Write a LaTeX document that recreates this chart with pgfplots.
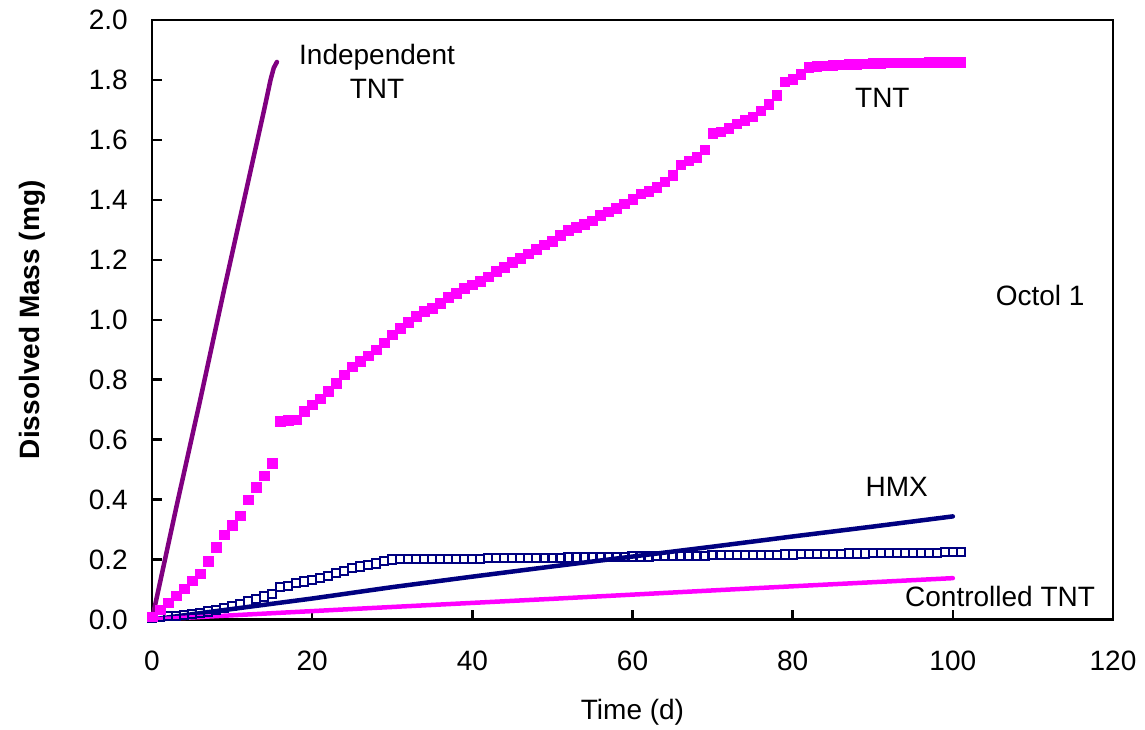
\documentclass[border=0pt]{standalone}
\usepackage{fontspec}
\setmainfont{Liberation Sans}
\usepackage{pgfplots}
\pgfplotsset{compat=1.18}
\definecolor{tntmag}{RGB}{255,0,255}
\definecolor{indpurple}{RGB}{128,0,128}
\definecolor{hmxnavy}{RGB}{0,0,128}

% Octol 1: dissolved TNT (filled squares) and HMX (open squares), daily
\pgfplotstableread{
t m
0 0.010
1 0.033
2 0.056
3 0.080
4 0.103
5 0.129
6 0.153
7 0.194
8 0.241
9 0.283
10 0.314
11 0.346
12 0.400
13 0.441
14 0.480
15 0.522
16 0.661
17 0.664
18 0.667
19 0.694
20 0.717
21 0.736
22 0.761
23 0.789
24 0.817
25 0.844
26 0.861
27 0.880
28 0.900
29 0.924
30 0.950
31 0.972
32 0.991
33 1.011
34 1.028
35 1.039
36 1.056
37 1.076
38 1.089
39 1.106
40 1.117
41 1.128
42 1.144
43 1.161
44 1.176
45 1.191
46 1.206
47 1.220
48 1.236
49 1.250
50 1.263
51 1.283
52 1.298
53 1.309
54 1.319
55 1.331
56 1.348
57 1.361
58 1.372
59 1.387
60 1.402
61 1.420
62 1.428
63 1.443
64 1.461
65 1.483
66 1.517
67 1.530
68 1.543
69 1.567
70 1.622
71 1.628
72 1.639
73 1.654
74 1.665
75 1.678
76 1.697
77 1.720
78 1.750
79 1.794
80 1.802
81 1.820
82 1.842
83 1.846
84 1.848
85 1.850
86 1.851
87 1.852
88 1.853
89 1.854
90 1.855
91 1.856
92 1.857
93 1.857
94 1.858
95 1.858
96 1.858
97 1.859
98 1.859
99 1.859
100 1.859
101 1.859
}\tntdata

\pgfplotstableread{
t m
0 0.005
1 0.009
2 0.011
3 0.013
4 0.016
5 0.019
6 0.022
7 0.027
8 0.032
9 0.038
10 0.044
11 0.052
12 0.060
13 0.068
14 0.077
15 0.085
16 0.108
17 0.113
18 0.121
19 0.127
20 0.133
21 0.139
22 0.146
23 0.155
24 0.163
25 0.171
26 0.177
27 0.182
28 0.187
29 0.196
30 0.200
31 0.201
32 0.201
33 0.201
34 0.202
35 0.202
36 0.202
37 0.202
38 0.203
39 0.203
40 0.203
41 0.203
42 0.204
43 0.204
44 0.204
45 0.205
46 0.205
47 0.205
48 0.205
49 0.206
50 0.206
51 0.206
52 0.207
53 0.207
54 0.207
55 0.208
56 0.208
57 0.208
58 0.209
59 0.209
60 0.210
61 0.210
62 0.210
63 0.211
64 0.211
65 0.211
66 0.212
67 0.212
68 0.213
69 0.213
70 0.214
71 0.214
72 0.214
73 0.215
74 0.215
75 0.215
76 0.216
77 0.216
78 0.216
79 0.217
80 0.217
81 0.218
82 0.218
83 0.218
84 0.219
85 0.219
86 0.219
87 0.220
88 0.220
89 0.220
90 0.221
91 0.221
92 0.221
93 0.222
94 0.222
95 0.222
96 0.223
97 0.223
98 0.223
99 0.224
100 0.224
101 0.224
}\hmxdata

\begin{document}
\fontsize{28}{33}\selectfont
\begin{tikzpicture}[x=1pt,y=1pt]
\path[use as bounding box] (-152,-109.5) rectangle (993,619.5);
\begin{axis}[
  at={(0,0)}, anchor=south west,
  scale only axis, width=961pt, height=599.5pt,
  xmin=0, xmax=120, ymin=0, ymax=2,
  xtick={0,20,40,60,80,100,120},
  ytick={0,0.2,0.4,0.6,0.8,1.0,1.2,1.4,1.6,1.8,2.0},
  xtick pos=bottom, ytick pos=left,
  tick align=inside,
  major tick length=10pt,
  axis line style={line width=2.5pt, black},
  every tick/.style={line width=2.5pt, black},
  /pgf/number format/assume math mode=true,
  ticklabel style={font=\fontsize{28}{33}\selectfont},
  xticklabel style={inner sep=0pt, anchor=north, yshift=-31pt},
  yticklabel style={inner sep=0pt, anchor=east, xshift=-24pt,
    /pgf/number format/.cd, fixed, fixed zerofill, precision=1},
  scaled ticks=false,
  clip=false,
]
% open HMX squares
\addplot[hmxnavy, only marks, mark=square, mark size=4.1pt,
  mark options={line width=2pt, fill=white}] table[x=t, y=m] {\hmxdata};
% filled TNT squares
\addplot[tntmag, only marks, mark=square*, mark size=4.8pt,
  mark options={fill=tntmag, draw=tntmag, line width=0.4pt}] table[x=t, y=m] {\tntdata};
% independent TNT
\addplot[indpurple, line width=4.5pt, line cap=round] coordinates {
  (0,0) (3,0.37) (6,0.73) (9,1.10) (12,1.46) (14,1.70) (14.8,1.80) (15.2,1.84) (15.6,1.86)};
% HMX model
\addplot[hmxnavy, line width=4.5pt, line cap=round] coordinates {
  (0,0) (10,0.035) (20,0.070) (30,0.108) (40,0.143) (50,0.177) (60,0.210) (70,0.243) (80,0.277) (90,0.310) (100,0.344)};
% controlled TNT
\addplot[tntmag, line width=4.5pt, line cap=round] coordinates {
  (0,0) (25,0.035) (50,0.069) (75,0.104) (100,0.138)};

\node[anchor=base] at (axis cs:28.1,1.851) {Independent};
\node[anchor=base] at (axis cs:28.1,1.738) {TNT};
\node[anchor=base] at (axis cs:91.2,1.707) {TNT};
\node[anchor=base] at (axis cs:110.9,1.047) {Octol 1};
\node[anchor=base] at (axis cs:93.0,0.410) {HMX};
\node[anchor=base] at (axis cs:105.9,0.045) {Controlled TNT};

\node[anchor=base] at ([yshift=-100pt]rel axis cs:0.5,0) {Time (d)};
\node[anchor=base, rotate=90, font=\bfseries\fontsize{28}{33}\selectfont]
  at ([xshift=-112pt]rel axis cs:0,0.5) {Dissolved Mass (mg)};
\end{axis}
\end{tikzpicture}
\end{document}
